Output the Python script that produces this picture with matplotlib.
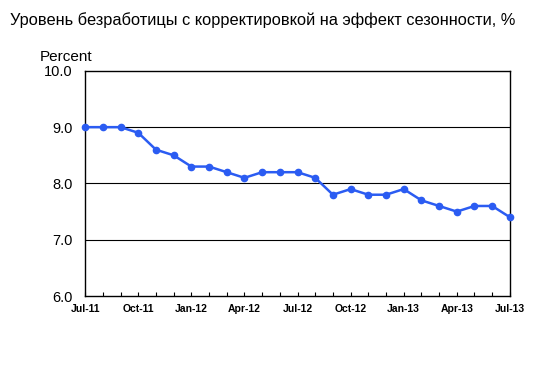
import matplotlib
matplotlib.use("Agg")
import matplotlib.pyplot as plt

months = ["Jul-11", "Aug-11", "Sep-11", "Oct-11", "Nov-11", "Dec-11",
          "Jan-12", "Feb-12", "Mar-12", "Apr-12", "May-12", "Jun-12",
          "Jul-12", "Aug-12", "Sep-12", "Oct-12", "Nov-12", "Dec-12",
          "Jan-13", "Feb-13", "Mar-13", "Apr-13", "May-13", "Jun-13", "Jul-13"]
rate = [9.0, 9.0, 9.0, 8.9, 8.6, 8.5, 8.3, 8.3, 8.2, 8.1, 8.2, 8.2,
        8.2, 8.1, 7.8, 7.9, 7.8, 7.8, 7.9, 7.7, 7.6, 7.5, 7.6, 7.6, 7.4]
yticks = [6.0, 7.0, 8.0, 9.0, 10.0]

plt.rcParams['font.family'] = ['Liberation Sans', 'DejaVu Sans']

fig = plt.figure(figsize=(5.39, 3.83), dpi=100)
ax = fig.add_axes([0.158, 0.227, 0.788, 0.588])

x = list(range(len(months)))
ax.plot(x, rate, color='#2b5cf2', lw=1.8, marker='o', ms=4.5, zorder=3, clip_on=False)

ax.set_xlim(0, len(months) - 1)
ax.set_ylim(6.0, 10.0)
ax.set_yticks(yticks)
ax.set_yticklabels([f"{v:.1f}" for v in yticks], fontsize=10.5)
for v in yticks[1:-1]:
    ax.axhline(v, color='black', lw=0.8, zorder=1)

ax.set_xticks(x[::3])
ax.set_xticklabels(months[::3], fontsize=7.5, fontweight='bold')
ax.set_xticks(x, minor=True)
ax.tick_params(axis='x', which='both', direction='in', length=3, width=0.8, pad=6)
ax.tick_params(axis='y', length=0, pad=9)
for s in ax.spines.values():
    s.set_linewidth(1.0)

fig.text(10 / 539, 1 - 20 / 383, "Уровень безработицы с корректировкой на эффект сезонности, %",
         fontsize=11.8, va='center', ha='left')
fig.text(40 / 539, 1 - 57 / 383, "Percent", fontsize=11, va='center', ha='left')

fig.savefig("out.png", dpi=100)
